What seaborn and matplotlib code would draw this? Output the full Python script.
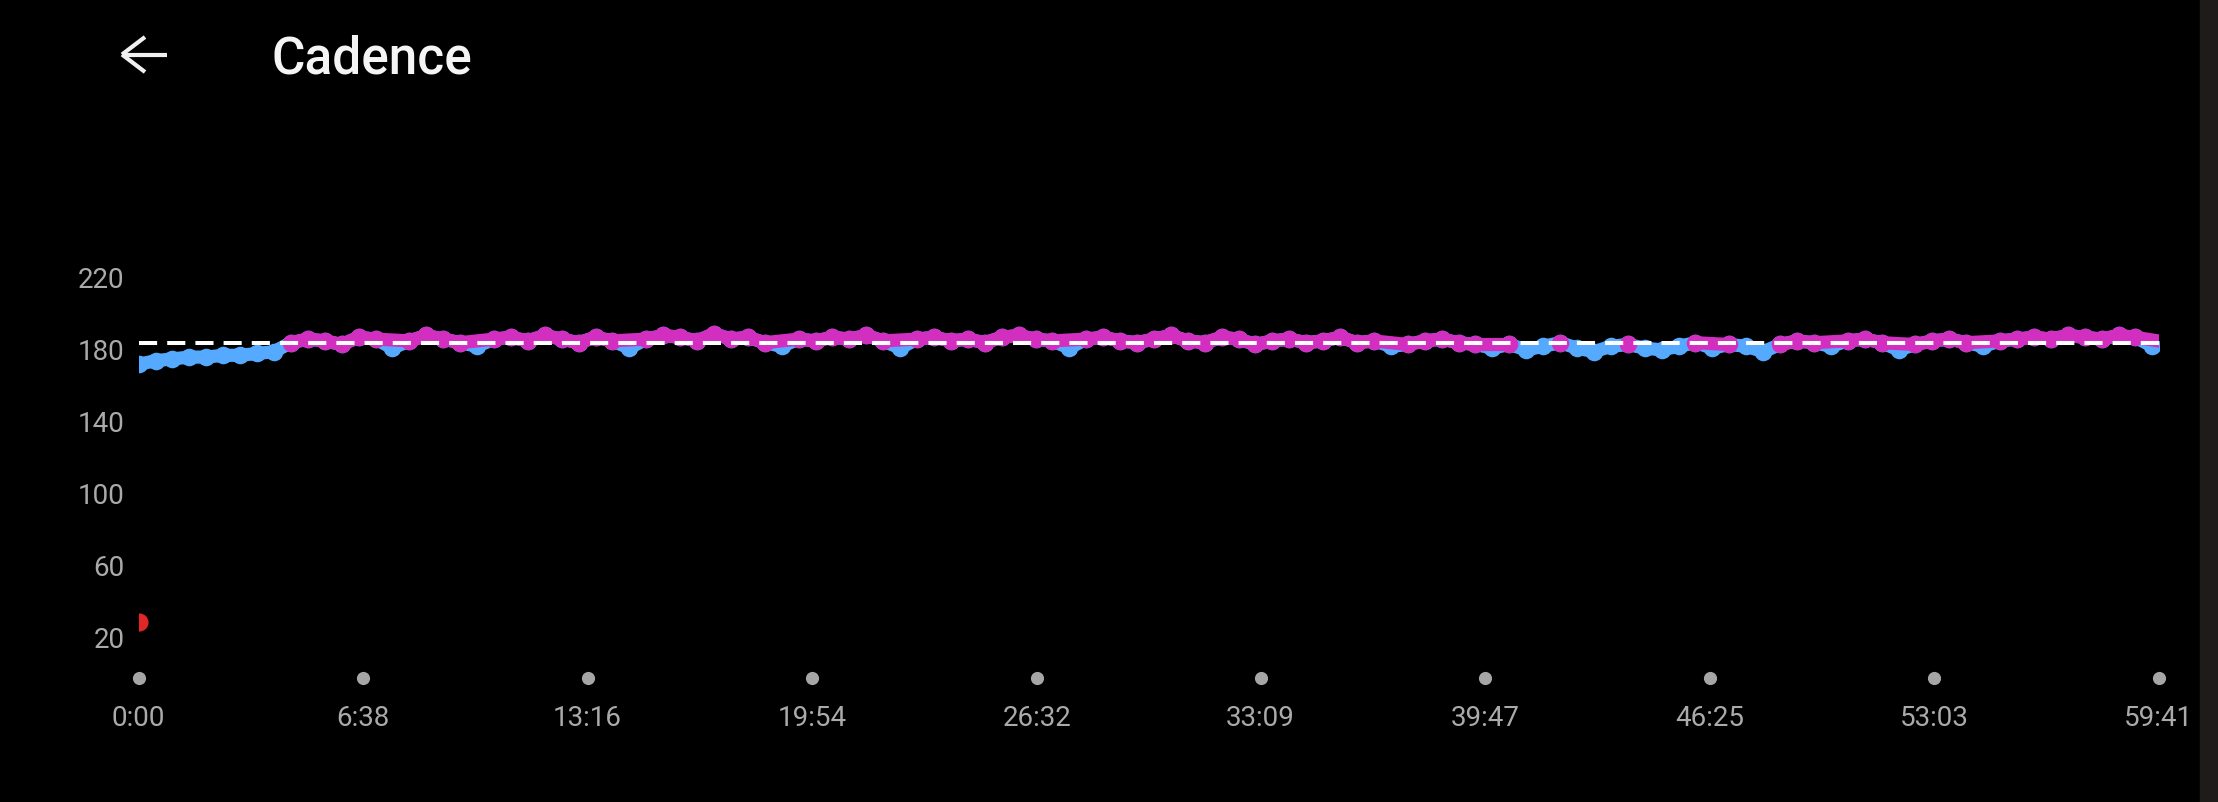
import numpy as np
import pandas as pd
import seaborn as sns
from matplotlib import pyplot as plt
from matplotlib.lines import Line2D
from matplotlib.patches import Rectangle

# cadence samples every 30 s (spm)
cadence = [172, 174, 175, 176, 176, 177, 177, 178, 179,
           184, 186, 185, 183, 187, 186, 181, 185, 188, 186, 184,
           182, 186, 187, 185, 188, 186, 184, 187, 185, 181,
           186, 188, 187, 185, 189, 186, 187, 184, 182, 186,
           185, 187, 186, 188, 185, 181, 186, 187, 185, 186,
           184, 187, 188, 186, 185, 181, 186, 187, 185, 184,
           186, 188, 185, 184, 187, 186, 183, 185, 186, 184,
           185, 187, 184, 185, 182, 183, 185, 186, 184, 183,
           181, 183, 180, 182, 184, 181, 179, 182, 183, 181,
           180, 182, 184, 181, 183, 182, 179, 183, 185, 184,
           182, 185, 186, 184, 180, 183, 185, 186, 184, 182,
           185, 186, 187, 186, 188, 187, 186, 188, 187, 182,
           184]
seconds = np.arange(len(cadence)) * 30
start_point = (0, 29)   # first reading at 0:00
avg_cadence = 184
zone_limit = 183

total = 3581
tick_secs = [0, 398, 796, 1194, 1592, 1989, 2387, 2785, 3183, 3581]
tick_labels = ['0:00', '6:38', '13:16', '19:54', '26:32', '33:09',
               '39:47', '46:25', '53:03', '59:41']
y_ticks = [20, 60, 100, 140, 180, 220]

df = pd.DataFrame({'t': seconds, 'cad': cadence})
low = df['cad'] < zone_limit
# high-zone line only breaks where the cadence stays low for 2+ samples
df['grp'] = (low & low.shift(1, fill_value=False)).cumsum()
high = df[~low]

sns.set_theme(style='dark', rc={'axes.facecolor': 'black', 'figure.facecolor': 'black'})
plt.rcParams['font.family'] = ['Roboto', 'DejaVu Sans']

W, H = 2218, 802
fig = plt.figure(figsize=(W / 100, H / 100), dpi=100)
ax = fig.add_axes([138.6 / W, (H - 677.5) / H, 2020 / W, 435.6 / H])

blue = '#55aaff'
pink = '#d22fc0'

sns.lineplot(data=df, x='t', y='cad', ax=ax, color=blue, linewidth=9.5,
             solid_capstyle='round')
sns.scatterplot(data=df, x='t', y='cad', ax=ax, color=blue, s=160, linewidth=0)
sns.lineplot(data=high, x='t', y='cad', units='grp', estimator=None, ax=ax,
             color=pink, linewidth=9.5, solid_capstyle='round', zorder=3)
sns.scatterplot(data=high, x='t', y='cad', ax=ax, color=pink, s=160, linewidth=0,
                zorder=4)
ax.scatter([start_point[0]], [start_point[1]], color='#e02626', s=170, linewidth=0, zorder=5)

ax.plot([0, total], [avg_cadence, avg_cadence], color='white', linewidth=2.9,
        dashes=(4.5, 2.5), zorder=6)

ax.set_xlim(0, total)
ax.set_ylim(-2, 240)
ax.scatter(tick_secs, [-2] * len(tick_secs), color='#a6a6a6', s=90,
           linewidth=0, clip_on=False, zorder=7)

ax.set_xticks(tick_secs)
ax.set_xticklabels(tick_labels)
ax.set_yticks(y_ticks)
ax.tick_params(axis='x', length=0, pad=20, labelsize=20, labelcolor='#aaaaaa')
ax.tick_params(axis='y', length=0, pad=10, labelsize=20, labelcolor='#aaaaaa')
ax.set_xlabel('')
ax.set_ylabel('')
ax.grid(False)
for s in ax.spines.values():
    s.set_visible(False)

# header
fig.text(271.6 / W, 1 - 73.5 / H, 'Cadence', color='#f5f5f5', fontsize=37,
         fontweight='medium', va='baseline', ha='left')
for xs, ys in [([122, 167], [54.5, 54.5]), ([122, 145], [54.5, 37]), ([122, 145], [54.5, 72])]:
    fig.add_artist(Line2D([x / W for x in xs], [1 - y / H for y in ys],
                          color='#f0f0f0', linewidth=3, solid_capstyle='butt'))
fig.add_artist(Rectangle((2200 / W, 0), 18 / W, 1, color='#1f1b1b',
                         transform=fig.transFigure))

fig.savefig('out.png', dpi=100, facecolor='black')
